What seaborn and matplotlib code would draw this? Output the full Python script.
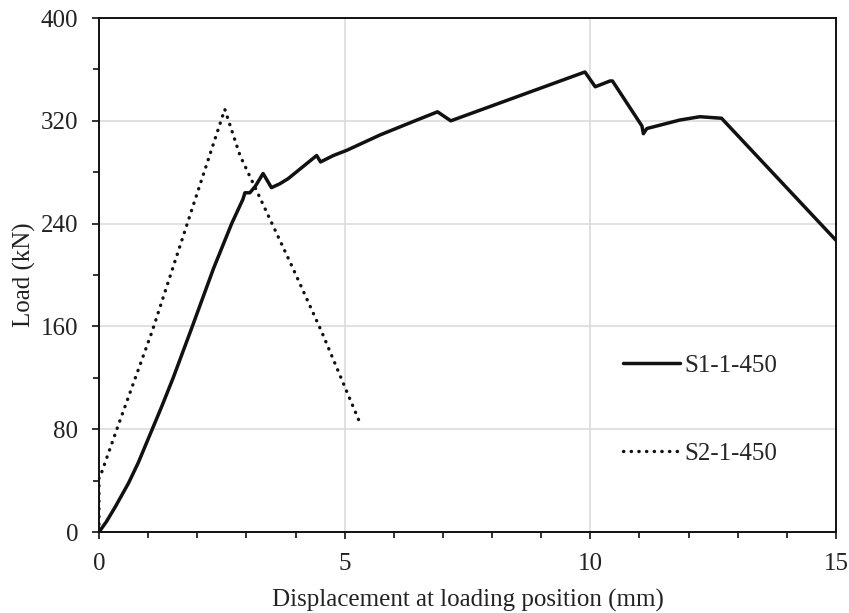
import pandas as pd
import matplotlib
matplotlib.use("Agg")
import matplotlib.pyplot as plt
import seaborn as sns
from matplotlib.ticker import MultipleLocator

# -----------------------------------------
# data
# -----------------------------------------
s1_disp = [0.0, 0.15, 0.33, 0.60, 0.80, 1.04, 1.28, 1.51, 1.88, 2.33, 2.70, 2.93, 2.97, 3.07,
           3.18, 3.34, 3.51, 3.68, 3.85, 4.43, 4.51, 4.77, 5.04, 5.72, 6.43, 6.89, 7.16, 9.89,
           10.10, 10.40, 10.45, 11.05, 11.08, 11.15, 11.82, 12.23, 12.67, 15.0]
s1_load = [0.0, 8.0, 19.5, 38.0, 54.0, 76.0, 98.0, 120.0, 158.0, 205.0, 240.0, 259.0, 264.0, 264.0,
           269.0, 279.0, 268.0, 271.0, 275.0, 293.0, 288.0, 293.0, 297.0, 309.0, 320.0, 327.0, 320.0, 358.0,
           346.5, 351.0, 351.0, 316.0, 310.0, 314.0, 320.6, 323.2, 322.0, 227.0]

s2_disp = [0.0, 0.0, 0.05, 0.41, 1.08, 1.95, 2.50, 2.56, 2.87, 3.24, 3.95, 4.53, 5.31]
s2_load = [0.0, 44.0, 46.0, 85.0, 156.0, 258.0, 322.0, 329.0, 293.0, 263.0, 205.0, 156.0, 85.0]

series_names = ["S1-1-450", "S2-1-450"]

df1 = pd.DataFrame({"disp": s1_disp, "load": s1_load})
df2 = pd.DataFrame({"disp": s2_disp, "load": s2_load})

# -----------------------------------------
# style
# -----------------------------------------
sns.set_theme(style="white")
plt.rcParams["font.family"] = ["Liberation Serif", "DejaVu Serif"]
plt.rcParams["font.size"] = 18

fig, ax = plt.subplots(figsize=(8.49, 6.13), dpi=100)
fig.subplots_adjust(left=0.1166, right=0.9847, top=0.9706, bottom=0.1321)

sns.lineplot(data=df1, x="disp", y="load", ax=ax, color="#111111", lw=2.5,
             estimator=None, sort=False, label=series_names[0])
sns.lineplot(data=df2, x="disp", y="load", ax=ax, color="#111111", lw=2.4,
             linestyle=(0, (0.1, 2.2)), dash_capstyle="round", estimator=None,
             sort=False, label=series_names[1])

ax.set_xlim(0, 15)
ax.set_ylim(0, 400)
ax.xaxis.set_major_locator(MultipleLocator(5))
ax.xaxis.set_minor_locator(MultipleLocator(1))
ax.yaxis.set_major_locator(MultipleLocator(80))
ax.yaxis.set_minor_locator(MultipleLocator(40))

ax.grid(True, which="major", color="#d9d9d9", lw=1.1)
ax.set_axisbelow(True)

for sp in ax.spines.values():
    sp.set_visible(True)
    sp.set_color("#111111")
    sp.set_linewidth(1.4)

ax.tick_params(which="major", direction="out", length=5, width=1.2,
               color="#111111", labelsize=18, pad=10, labelcolor="#222222")
ax.tick_params(which="minor", direction="out", length=4, width=1.2,
               color="#111111")
ax.tick_params(top=False, right=False, bottom=True, left=True, which="both")

ax.set_xlabel("Displacement at loading position (mm)", fontsize=18,
              labelpad=10, color="#222222")
ax.set_ylabel("Load (kN)", fontsize=18, labelpad=3, color="#222222")

ax.legend(loc="center left", bbox_to_anchor=(0.711, 0.238), frameon=False,
          fontsize=18, handlelength=2.28, handletextpad=0.16,
          labelspacing=2.6, borderpad=0, borderaxespad=0)

fig.savefig("out.png", dpi=100)
